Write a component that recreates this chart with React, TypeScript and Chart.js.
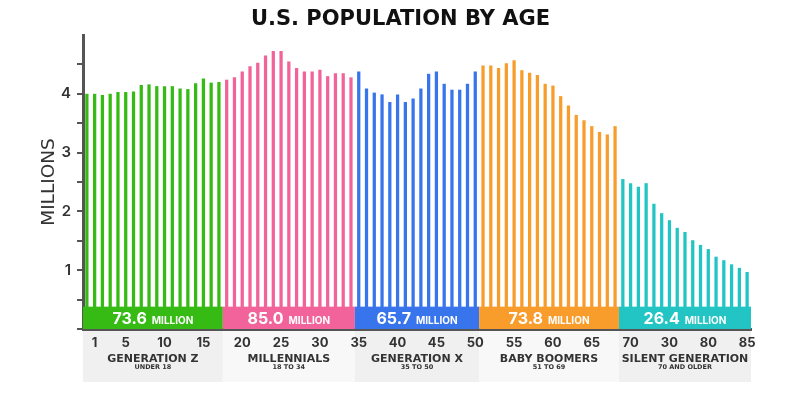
import React, { useEffect, useRef } from 'react';
import { Chart, registerables } from 'chart.js';

Chart.register(...registerables);

const FONT = 'Inter, "Open Sans", "DejaVu Sans", sans-serif';
const WIDE = '"DejaVu Sans", Inter, sans-serif';

const TITLE = 'U.S. POPULATION BY AGE';

// Population by single year of age, millions
const GEN_Z = [4.0, 4.0, 3.98, 4.0, 4.03, 4.03, 4.04, 4.15, 4.16, 4.13, 4.13, 4.13, 4.09, 4.08, 4.18, 4.26, 4.19, 4.2];
const MILLENNIALS = [4.24, 4.28, 4.38, 4.47, 4.53, 4.65, 4.73, 4.73, 4.55, 4.44, 4.38, 4.38, 4.41, 4.3, 4.35, 4.35, 4.28];
const GEN_X = [4.38, 4.09, 4.02, 3.99, 3.86, 3.99, 3.86, 3.92, 4.09, 4.34, 4.38, 4.17, 4.07, 4.07, 4.17, 4.38];
const BOOMERS = [4.48, 4.48, 4.44, 4.52, 4.57, 4.4, 4.36, 4.32, 4.17, 4.14, 3.96, 3.8, 3.64, 3.55, 3.45, 3.35, 3.31, 3.45];
const SILENT = [2.55, 2.48, 2.42, 2.48, 2.13, 1.97, 1.85, 1.72, 1.65, 1.51, 1.43, 1.36, 1.23, 1.17, 1.1, 1.04, 0.97];

const GROUP_NAMES = ['GENERATION Z', 'MILLENNIALS', 'GENERATION X', 'BABY BOOMERS', 'SILENT GENERATION'];
const GROUP_SUBTITLES = ['UNDER 18', '18 TO 34', '35 TO 50', '51 TO 69', '70 AND OLDER'];
const GROUP_TOTALS = ['73.6', '85.0', '65.7', '73.8', '26.4'];
const GROUP_COLORS = ['#36bb14', '#f1639a', '#3874ec', '#f89c2c', '#22c4c4'];
const GROUP_BOX_COLORS = ['#f0f0f0', '#f8f8f8', '#f0f0f0', '#f8f8f8', '#f0f0f0'];

const TICK_AGES = [1, 5, 10, 15, 20, 25, 30, 35, 40, 45, 50, 55, 60, 65, 70, 75, 80, 85];
const TICK_TEXT = ['1', '5', '10', '15', '20', '25', '30', '35', '40', '45', '50', '55', '60', '65', '70', '30', '80', '85'];
const Y_TICK_LABELS = [1, 2, 3, 4];

const GROUPS = [GEN_Z, MILLENNIALS, GEN_X, BOOMERS, SILENT];
const VALUES = GROUPS.flat();
const AGES = VALUES.map((_, i) => String(i));
const BAR_COLORS = GROUPS.flatMap((g, gi) => g.map(() => GROUP_COLORS[gi]));

const BAND_TOP = 0.38;

function groupRanges(chart: any) {
  const x = chart.scales.x;
  const area = chart.chartArea;
  const cat = (area.right - area.left) / VALUES.length;
  const out: { l: number; r: number }[] = [];
  let start = 0;
  GROUPS.forEach((g, gi) => {
    const end = start + g.length - 1;
    const l = gi === 0 ? area.left : x.getPixelForValue(start) - cat / 2;
    const r = gi === GROUPS.length - 1 ? area.right : x.getPixelForValue(end) + cat / 2;
    out.push({ l, r });
    start = end + 1;
  });
  return out;
}

const groupPlugin = {
  id: 'groupPlugin',
  beforeDraw(chart: any) {
    const ctx = chart.ctx;
    const area = chart.chartArea;
    const ranges = groupRanges(chart);
    ctx.save();
    ranges.forEach((rg, i) => {
      ctx.fillStyle = GROUP_BOX_COLORS[i];
      ctx.fillRect(rg.l, area.bottom + 2, rg.r - rg.l, 51);
    });
    ctx.restore();
  },
  afterDatasetsDraw(chart: any) {
    const ctx = chart.ctx;
    const y = chart.scales.y;
    const ranges = groupRanges(chart);
    const y0 = y.getPixelForValue(0);
    const yt = y.getPixelForValue(BAND_TOP);
    ctx.save();
    ranges.forEach((rg, i) => {
      ctx.fillStyle = GROUP_COLORS[i];
      ctx.fillRect(rg.l, yt, rg.r - rg.l, y0 - yt);
      const big = GROUP_TOTALS[i];
      const small = 'MILLION';
      const bigFont = `bold 16px ${FONT}`;
      const smallFont = `bold 10px ${FONT}`;
      ctx.font = bigFont;
      const wb = ctx.measureText(big).width;
      ctx.font = smallFont;
      const ws = ctx.measureText(small).width;
      const gap = 5;
      const total = wb + gap + ws;
      const cx = (rg.l + rg.r) / 2;
      const sx = cx - total / 2;
      const by = y0 - 5;
      ctx.fillStyle = '#ffffff';
      ctx.textBaseline = 'alphabetic';
      ctx.textAlign = 'left';
      ctx.font = bigFont;
      ctx.fillText(big, sx, by);
      ctx.font = smallFont;
      ctx.fillText(small, sx + wb + gap, by);
    });
    ctx.restore();
  },
  afterDraw(chart: any) {
    const ctx = chart.ctx;
    const area = chart.chartArea;
    const ranges = groupRanges(chart);
    ctx.save();
    ctx.fillStyle = '#333333';
    ctx.textAlign = 'center';
    ctx.textBaseline = 'middle';
    ranges.forEach((rg, i) => {
      const cx = (rg.l + rg.r) / 2;
      ctx.font = `bold 11px ${WIDE}`;
      ctx.fillText(GROUP_NAMES[i], cx, area.bottom + 30.5);
      ctx.font = `bold 6.5px ${WIDE}`;
      ctx.fillText(GROUP_SUBTITLES[i], cx, area.bottom + 38.5);
    });
    ctx.fillStyle = '#111111';
    ctx.font = `bold 21px ${WIDE}`;
    ctx.fillText(TITLE, chart.width / 2, 20);
    ctx.restore();
  },
};

export default function App() {
  const ref = useRef<HTMLCanvasElement>(null);
  useEffect(() => {
    if (!ref.current) return;
    const chart = new Chart(ref.current, {
      type: 'bar',
      data: {
        labels: AGES,
        datasets: [
          {
            data: VALUES,
            backgroundColor: BAR_COLORS,
            barPercentage: 0.42,
            categoryPercentage: 1,
            borderWidth: 0,
          },
        ],
      },
      plugins: [groupPlugin],
      options: {
        animation: false,
        responsive: true,
        maintainAspectRatio: false,
        layout: { padding: { left: 0, right: 50, top: 35, bottom: 0 } },
        plugins: {
          legend: { display: false },
          tooltip: { enabled: false },
          title: { display: false },
        },
        scales: {
          x: {
            type: 'category',
            offset: true,
            grid: { display: false, drawTicks: false },
            border: { display: true, color: '#555555', width: 3 },
            ticks: {
              autoSkip: false,
              maxRotation: 0,
              minRotation: 0,
              padding: 6,
              color: '#333333',
              font: { family: FONT, size: 13, weight: 'bold' },
              callback: (_v: any, idx: number) => {
                const k = TICK_AGES.indexOf(idx);
                return k >= 0 ? TICK_TEXT[k] : '';
              },
            },
            afterFit: (s: any) => {
              s.height = 64;
            },
          },
          y: {
            min: 0,
            max: 5,
            grid: {
              display: true,
              drawOnChartArea: false,
              drawTicks: true,
              tickLength: 6,
              lineWidth: 2,
              color: (c: any) => (c.tick && c.tick.value === 5 ? 'rgba(0,0,0,0)' : '#555555'),
            },
            border: { display: true, color: '#555555', width: 3 },
            ticks: {
              stepSize: 0.5,
              padding: 6,
              color: '#333333',
              font: { family: FONT, size: 15, weight: '600' },
              callback: (v: any) => (Y_TICK_LABELS.includes(Number(v)) ? String(v) : ''),
            },
            title: {
              display: true,
              text: 'MILLIONS',
              color: '#333333',
              font: { family: WIDE, size: 18.5, weight: 'normal', lineHeight: 1.2 },
              padding: { top: 38, bottom: 0 },
            },
            afterFit: (s: any) => {
              s.width = 83;
            },
          },
        },
      },
    });
    return () => chart.destroy();
  }, []);
  return (
    <div style={{ position: 'absolute', left: 0, top: 0, width: 801, height: 393, background: '#ffffff' }}>
      <canvas ref={ref} />
    </div>
  );
}
